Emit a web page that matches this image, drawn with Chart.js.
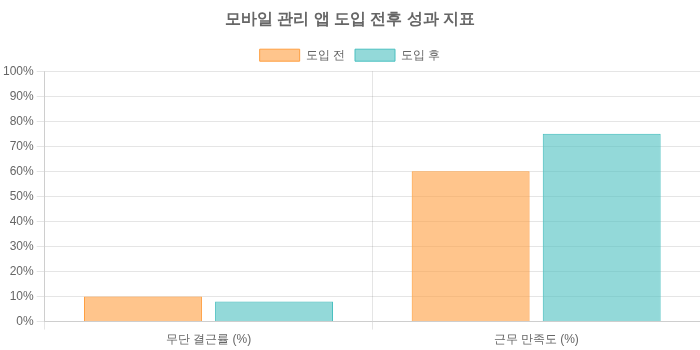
<!DOCTYPE html>
<html lang="ko">
<head>
<meta charset="utf-8">
<script src="https://cdn.jsdelivr.net/npm/chart.js@4"></script>
<style>
  html, body { margin: 0; padding: 0; background: #fff; }
  #wrap { width: 700px; height: 350px; }
</style>
</head>
<body>
<div id="wrap"><canvas id="perf"></canvas></div>
<script>
const categories = ['무단 결근률 (%)', '근무 만족도 (%)'];
const beforeValues = [10, 60];
const afterValues = [8, 75];

Chart.defaults.color = '#666';

const ctx = document.getElementById('perf');

new Chart(ctx, {
  type: 'bar',
  data: {
    labels: categories,
    datasets: [{
      label: '도입 전',
      data: beforeValues,
      backgroundColor: 'rgba(255, 159, 64, 0.6)',
      borderColor: 'rgba(255, 159, 64, 1)',
      borderWidth: 1
    }, {
      label: '도입 후',
      data: afterValues,
      backgroundColor: 'rgba(75, 192, 192, 0.6)',
      borderColor: 'rgba(75, 192, 192, 1)',
      borderWidth: 1
    }]
  },
  options: {
    responsive: true,
    maintainAspectRatio: false,
    animation: false,
    plugins: {
      title: {
        display: true,
        text: '모바일 관리 앱 도입 전후 성과 지표',
        font: { size: 16, weight: 'bold' }
      }
    },
    scales: {
      y: {
        beginAtZero: true,
        max: 100,
        ticks: {
          stepSize: 10,
          callback: function(v) { return v + '%'; }
        }
      }
    }
  }
});
</script>
</body>
</html>
